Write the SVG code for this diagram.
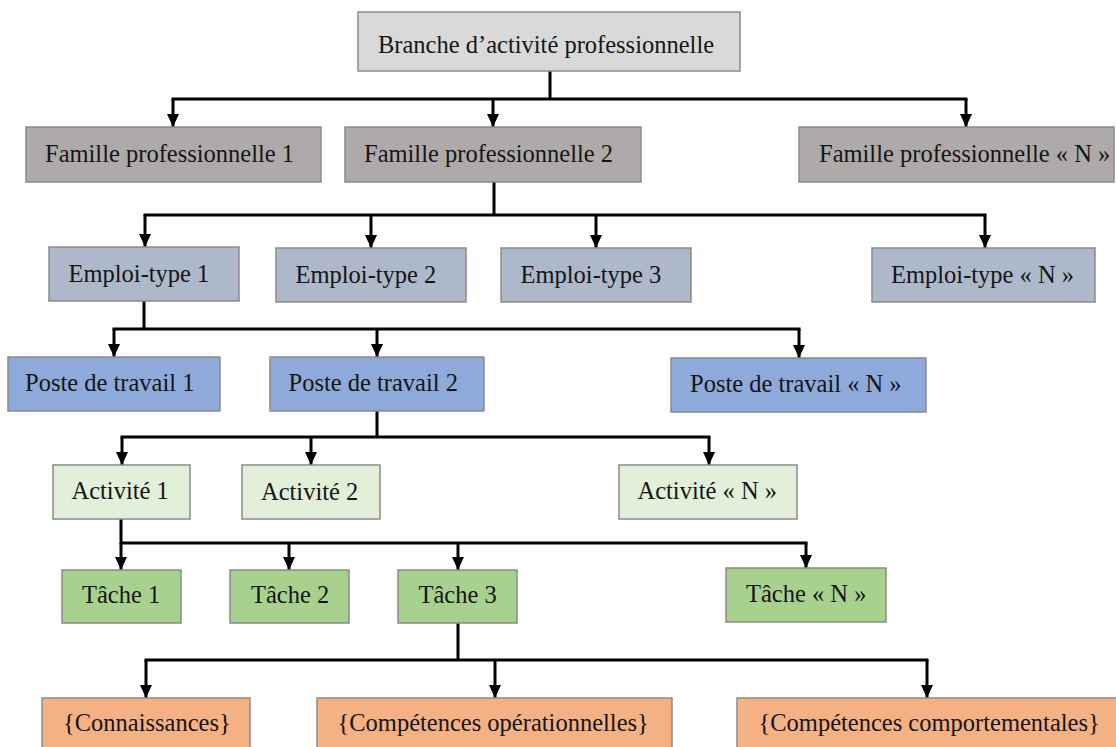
<svg xmlns="http://www.w3.org/2000/svg" width="1116" height="747" viewBox="0 0 1116 747">
<defs>
<style>
.box{stroke:#8a8a8a;stroke-width:1.5}
.t{font-family:"Liberation Serif","Times New Roman",serif;font-size:24.5px;fill:#151515}
.c0{fill:#d9d9d9}.c1{fill:#aeaaaa}.c2{fill:#adb9ca}.c3{fill:#8eaadb}.c4{fill:#e2efd9}.c5{fill:#a9d18e}.c6{fill:#f4b183}
.ln{fill:none;stroke:#000;stroke-width:3}
.ar{fill:none;stroke:#000;stroke-width:3;marker-end:url(#ah)}
</style>
<marker id="ah" viewBox="0 0 13 12" refX="13" refY="6" markerWidth="13" markerHeight="12" markerUnits="userSpaceOnUse" orient="auto">
<path d="M0,0 L13,6 L0,12 z" fill="#000"/>
</marker>
</defs>
<rect width="1116" height="747" fill="#fff"/>
<g id="connectors">
<path class="ln" d="M550,71 V99 M171.5,99 H967.5"/>
<path class="ar" d="M173,99 V127"/>
<path class="ar" d="M493,99 V127"/>
<path class="ar" d="M966,99 V127"/>
<path class="ln" d="M494,182 V215 M143.5,215 H986.5"/>
<path class="ar" d="M145,215 V247"/>
<path class="ar" d="M371,215 V248"/>
<path class="ar" d="M596,215 V248"/>
<path class="ar" d="M985,215 V248"/>
<path class="ln" d="M144,301 V329 M112.5,329 H800.5"/>
<path class="ar" d="M114,329 V357"/>
<path class="ar" d="M377,329 V357"/>
<path class="ar" d="M799,329 V358"/>
<path class="ln" d="M377,411 V437 M120.5,437 H710.5"/>
<path class="ar" d="M122,437 V465"/>
<path class="ar" d="M311,437 V465"/>
<path class="ar" d="M709,437 V465"/>
<path class="ln" d="M121,519 V543 M119.5,543 H807.5"/>
<path class="ar" d="M121,543 V570"/>
<path class="ar" d="M289,543 V570"/>
<path class="ar" d="M458,543 V570"/>
<path class="ar" d="M806,543 V568"/>
<path class="ln" d="M458,623 V660 M144.5,660 H928.5"/>
<path class="ar" d="M146,660 V698"/>
<path class="ar" d="M495,660 V698"/>
<path class="ar" d="M927,660 V698"/>
</g>
<g id="root"><rect class="box c0" x="358" y="12" width="382" height="59"/><text class="t" x="378" y="53">Branche d’activité professionnelle</text></g>
<g id="fam1"><rect class="box c1" x="26" y="127" width="295" height="55"/><text class="t" x="45" y="162">Famille professionnelle 1</text></g>
<g id="fam2"><rect class="box c1" x="345" y="127" width="296" height="55"/><text class="t" x="364" y="162">Famille professionnelle 2</text></g>
<g id="famN"><rect class="box c1" x="799" y="127" width="315" height="55"/><text class="t" x="819" y="162">Famille professionnelle « N »</text></g>
<g id="emp1"><rect class="box c2" x="49" y="247" width="190" height="54"/><text class="t" x="68.5" y="282">Emploi-type 1</text></g>
<g id="emp2"><rect class="box c2" x="276" y="248" width="190" height="54"/><text class="t" x="295.5" y="283">Emploi-type 2</text></g>
<g id="emp3"><rect class="box c2" x="501" y="248" width="190" height="54"/><text class="t" x="520.5" y="283">Emploi-type 3</text></g>
<g id="empN"><rect class="box c2" x="872" y="248" width="223" height="54"/><text class="t" x="891" y="283">Emploi-type « N »</text></g>
<g id="poste1"><rect class="box c3" x="8" y="357" width="212" height="54"/><text class="t" x="25" y="391">Poste de travail 1</text></g>
<g id="poste2"><rect class="box c3" x="270" y="357" width="214" height="54"/><text class="t" x="288.5" y="391">Poste de travail 2</text></g>
<g id="posteN"><rect class="box c3" x="671" y="358" width="255" height="54"/><text class="t" x="690" y="392">Poste de travail « N »</text></g>
<g id="act1"><rect class="box c4" x="53" y="465" width="137" height="54"/><text class="t" x="71.5" y="499">Activité 1</text></g>
<g id="act2"><rect class="box c4" x="242" y="465" width="138" height="54"/><text class="t" x="261" y="500">Activité 2</text></g>
<g id="actN"><rect class="box c4" x="619" y="465" width="178" height="54"/><text class="t" x="637.5" y="499">Activité « N »</text></g>
<g id="tache1"><rect class="box c5" x="62" y="570" width="119" height="53"/><text class="t" x="82" y="603">Tâche 1</text></g>
<g id="tache2"><rect class="box c5" x="230" y="570" width="119" height="53"/><text class="t" x="251" y="603">Tâche 2</text></g>
<g id="tache3"><rect class="box c5" x="398" y="570" width="119" height="53"/><text class="t" x="418.5" y="603">Tâche 3</text></g>
<g id="tacheN"><rect class="box c5" x="726" y="568" width="160" height="54"/><text class="t" x="746" y="602">Tâche « N »</text></g>
<g id="conn"><rect class="box c6" x="42" y="698" width="208" height="60"/><text class="t" x="63" y="731">{Connaissances}</text></g>
<g id="compop"><rect class="box c6" x="317" y="698" width="355" height="60"/><text class="t" x="337.5" y="731">{Compétences opérationnelles}</text></g>
<g id="compcomp"><rect class="box c6" x="737" y="698" width="390" height="60"/><text class="t" x="758.5" y="731">{Compétences comportementales}</text></g>
</svg>
